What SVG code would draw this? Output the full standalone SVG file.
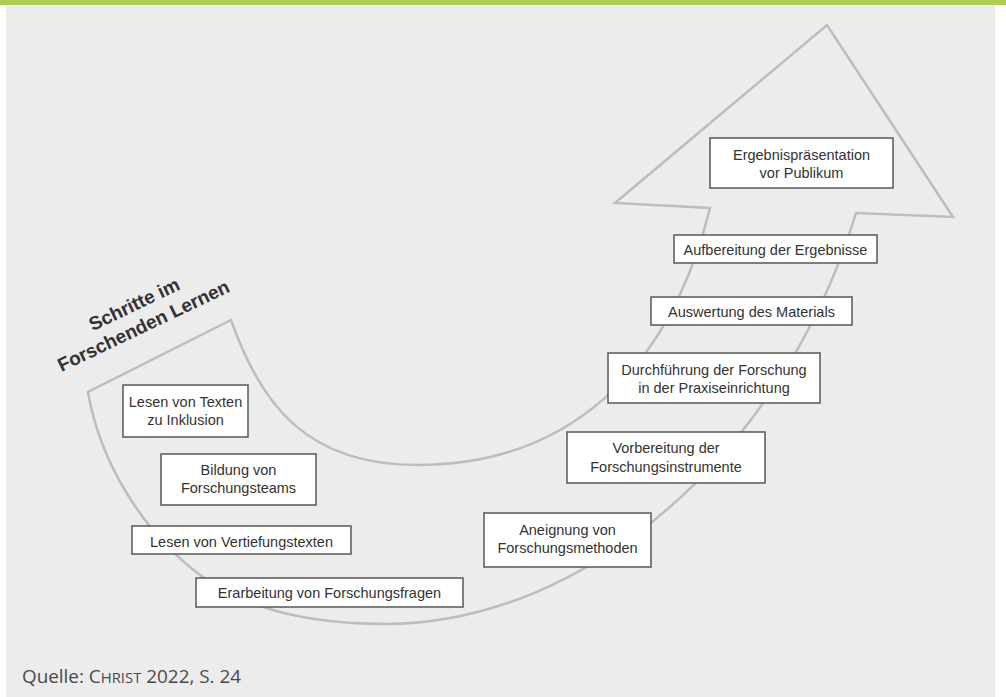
<svg xmlns="http://www.w3.org/2000/svg" width="1006" height="697" viewBox="0 0 1006 697">
<style>
.box{fill:#ffffff;stroke:#575757;stroke-width:1.5}
.lbl{font-family:"Liberation Sans",Arial,sans-serif;font-size:14.5px;fill:#333333;text-anchor:middle}
.title{font-family:"Liberation Sans",Arial,sans-serif;font-size:19px;font-weight:bold;fill:#333333;text-anchor:middle}
.cap{font-family:"Open Sans","DejaVu Sans",sans-serif;font-size:19px;fill:#4a4a4a}
</style>
<rect x="0" y="0" width="1006" height="697" fill="#ffffff"/>
<rect x="6" y="0" width="989" height="697" fill="#ececec"/>
<rect x="0" y="0" width="1006" height="5" fill="#aecb55"/>

<g id="arrow">
<path d="M231,320 L88,392 C100,462 142,531 200,575 C240,605 300,624 385,624 C585,624 783,453 856,213 L953,217 L827,25 L615,203 L710,208 C669,373 567,465 417,465 C307,465 261,405 231,320 Z" fill="none" stroke="#bdbdbd" stroke-width="2.5" stroke-linejoin="miter"/>
</g>

<g id="title" class="title">
<g transform="translate(137,310) rotate(-25.5)">
<text x="0" y="0">Schritte im</text>
<text x="-1" y="23.5">Forschenden Lernen</text>
</g>
</g>

<g id="connectors"></g>

<g id="n1"><rect class="box" x="123" y="385" width="125" height="52"/><text class="lbl" x="185.5" y="407">Lesen von Texten</text><text class="lbl" x="185.5" y="425">zu Inklusion</text></g>
<g id="n2"><rect class="box" x="161" y="454" width="155" height="51"/><text class="lbl" x="238.5" y="475">Bildung von</text><text class="lbl" x="238.5" y="493">Forschungsteams</text></g>
<g id="n3"><rect class="box" x="132" y="526" width="219" height="28"/><text class="lbl" x="241.5" y="547">Lesen von Vertiefungstexten</text></g>
<g id="n4"><rect class="box" x="196" y="578" width="267" height="29"/><text class="lbl" x="329.5" y="598">Erarbeitung von Forschungsfragen</text></g>
<g id="n5"><rect class="box" x="484" y="513" width="167" height="54"/><text class="lbl" x="567.5" y="535">Aneignung von</text><text class="lbl" x="567.5" y="553">Forschungsmethoden</text></g>
<g id="n6"><rect class="box" x="567" y="432" width="198" height="51"/><text class="lbl" x="666" y="453">Vorbereitung der</text><text class="lbl" x="666" y="472">Forschungsinstrumente</text></g>
<g id="n7"><rect class="box" x="608" y="353" width="212" height="50"/><text class="lbl" x="714" y="375">Durchführung der Forschung</text><text class="lbl" x="714" y="393">in der Praxiseinrichtung</text></g>
<g id="n8"><rect class="box" x="651" y="297" width="201" height="28"/><text class="lbl" x="751.5" y="317">Auswertung des Materials</text></g>
<g id="n9"><rect class="box" x="674" y="235" width="203" height="28"/><text class="lbl" x="775.5" y="255">Aufbereitung der Ergebnisse</text></g>
<g id="n10"><rect class="box" x="710" y="138" width="183" height="50"/><text class="lbl" x="801.5" y="160">Ergebnispräsentation</text><text class="lbl" x="801.5" y="178">vor Publikum</text></g>

<g id="caption"><text class="cap" x="22" y="683" textLength="219" lengthAdjust="spacingAndGlyphs">Quelle: C<tspan font-size="15">HRIST</tspan> 2022, S. 24</text></g>
</svg>
